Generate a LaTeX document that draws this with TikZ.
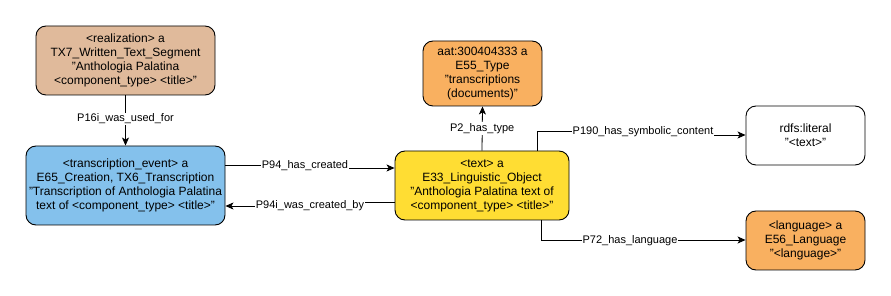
\documentclass[tikz,border=0pt]{standalone}
\usepackage{fontspec}
\setmainfont{Liberation Sans}
\usetikzlibrary{arrows.meta}
\definecolor{tanc}{RGB}{224,186,155}
\definecolor{bluec}{RGB}{132,193,236}
\definecolor{yellowc}{RGB}{255,221,51}
\definecolor{orangec}{RGB}{249,176,96}
\tikzset{
  box/.style={draw=black, line width=0.9pt, rounded corners=10pt, align=center,
    font=\fontsize{12}{14}\selectfont, inner sep=0pt},
  lbl/.style={fill=white, inner sep=1pt, font=\fontsize{11}{13}\selectfont},
  conn/.style={line width=0.8pt, -{Stealth[length=8pt,width=7pt,inset=2pt]}},
}
\begin{document}
\begin{tikzpicture}[x=1pt,y=-1pt]
\useasboundingbox (0,0) rectangle (891,296);
\node[box, fill=tanc, minimum width=179pt, minimum height=69pt] (real) at (125.5,60.5)
  {<realization> a\\TX7\_Written\_Text\_Segment\\"Anthologia Palatina\\<component\_type> <title>"};
\node[box, fill=bluec, minimum width=199pt, minimum height=79pt] (trans) at (125.5,185.5)
  {<transcription\_event> a\\E65\_Creation, TX6\_Transcription\\"Transcription of Anthologia Palatina\\text of <component\_type> <title>"};
\node[box, fill=yellowc, minimum width=174pt, minimum height=69pt] (text) at (482,185.5)
  {<text> a\\E33\_Linguistic\_Object\\"Anthologia Palatina text of\\<component\_type> <title>"};
\node[box, fill=orangec, minimum width=119pt, minimum height=65pt] (type) at (482.5,73.5)
  {aat:300404333 a\\E55\_Type\\"transcriptions\\(documents)"};
\node[box, fill=white, minimum width=119pt, minimum height=59pt] (lit) at (805.5,135.5)
  {rdfs:literal\\"<text>"};
\node[box, fill=orangec, minimum width=119pt, minimum height=59pt] (lang) at (805.5,240.5)
  {<language> a\\E56\_Language\\"<language>"};

\draw[conn] (real.south) -- (trans.north)
  node[lbl, pos=0.47] {P16i\_was\_used\_for};
\draw[conn] (trans.east |- 0,165) -- (305,165) -- (305,168) -- (text.west |- 0,168);
\node[lbl] (l94) at (305,166) {P94\_has\_created};
\draw[conn] (text.west |- 0,202) -- (310,202) -- (310,206) -- (trans.east |- 0,206);
\node[lbl] (l94i) at (310,206) {P94i\_was\_created\_by};
\draw[conn] (text.north) -- (type.south)
  node[lbl, pos=0.5] {P2\_has\_type};
\draw[conn] (537,151) -- (537,131) -- (643,131) -- (643,135) -- (lit.west |- 0,135);
\node[lbl] (l190) at (643,132) {P190\_has\_symbolic\_content};
\draw[conn] (541,220) -- (541,240) -- (lang.west |- 0,240);
\node[lbl] (l72) at (630,241) {P72\_has\_language};
\end{tikzpicture}
\end{document}
